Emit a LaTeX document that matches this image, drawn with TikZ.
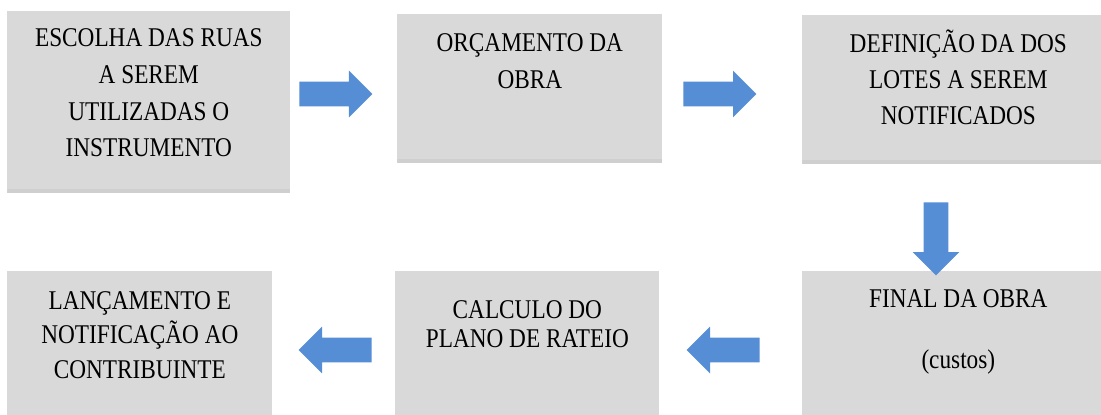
\documentclass[tikz,border=0pt]{standalone}
\usepackage{fontspec}
\setmainfont{Liberation Serif}[FakeStretch=0.86]
\usetikzlibrary{shapes.arrows,positioning}

\definecolor{boxgray}{HTML}{D9D9D9}
\definecolor{stripgray}{HTML}{CFCFCF}
\definecolor{arrowblue}{HTML}{558ED5}
\newcommand{\topo}{\rule{0pt}{14pt}}

\tikzset{
    etapa/.style={anchor=north west, fill=boxgray, inner sep=0pt},
    sombra/.style={path picture={\fill[stripgray] (path picture bounding box.south west) rectangle ([yshift=0.08cm]path picture bounding box.south east);}},
    texto/.style={anchor=north, align=center, inner sep=0pt, font=\fontsize{15.4}{20.5}\selectfont},
    seta/.style={single arrow, fill=arrowblue, anchor=tail, inner xsep=0pt, inner ysep=0.24cm,
        minimum height=1.46cm, minimum width=0.92cm, single arrow head extend=0.22cm}
}

\begin{document}
\begin{tikzpicture}[x=0.02cm,y=-0.02cm]
        \clip (0,0) rectangle (1101,414);
        % caixas
        \node[etapa,sombra,minimum width=5.66cm,minimum height=3.64cm] (escolha) at (7,11) {};
        \node[etapa,sombra,minimum width=5.30cm,minimum height=2.98cm] (orcamento) at (397,14) {};
        \node[etapa,sombra,minimum width=6.24cm,minimum height=2.98cm] (definicao) at (802,15) {};
        \node[etapa,minimum width=5.30cm,minimum height=2.90cm] (lancamento) at (7,271) {};
        \node[etapa,minimum width=5.28cm,minimum height=2.90cm] (calculo) at (395,271) {};
        \node[etapa,minimum width=6.24cm,minimum height=2.90cm] (final) at (802,271) {};
        % textos
        \node[texto,font=\fontsize{15.4}{21}\selectfont] (tescolha) at ([yshift=-0.206cm]escolha.north) {\topo ESCOLHA DAS RUAS\\A SEREM\\UTILIZADAS O\\INSTRUMENTO};
        \node[texto,font=\fontsize{15.4}{21}\selectfont] (torcamento) at ([yshift=-0.246cm]orcamento.north) {\topo ORÇAMENTO DA\\OBRA};
        \node[texto] (tdefinicao) at ([yshift=-0.246cm]definicao.north) {\topo DEFINIÇÃO DA DOS\\LOTES A SEREM\\NOTIFICADOS};
        \node[texto,font=\fontsize{15.4}{19.6}\selectfont] (tlancamento) at ([yshift=-0.266cm]lancamento.north) {\topo LANÇAMENTO E\\NOTIFICAÇÃO AO\\CONTRIBUINTE};
        \node[texto,font=\fontsize{15.4}{16.5}\selectfont] (tcalculo) at ([yshift=-0.446cm]calculo.north) {\topo CALCULO DO\\PLANO DE RATEIO};
        \node[texto,font=\fontsize{15.4}{17}\selectfont] (tfinal) at ([yshift=-0.226cm]final.north) {\topo FINAL DA OBRA\\[18pt](custos)};
        % setas
        \node[seta] (s1) at (299,94) {};
        \node[seta] (s2) at (683,94) {};
        \node[seta,rotate=-90] (s3) at (936,202) {};
        \node[seta,rotate=180] (s4) at (372,350) {};
        \node[seta,rotate=180] (s5) at (760,350) {};
\end{tikzpicture}
\end{document}
